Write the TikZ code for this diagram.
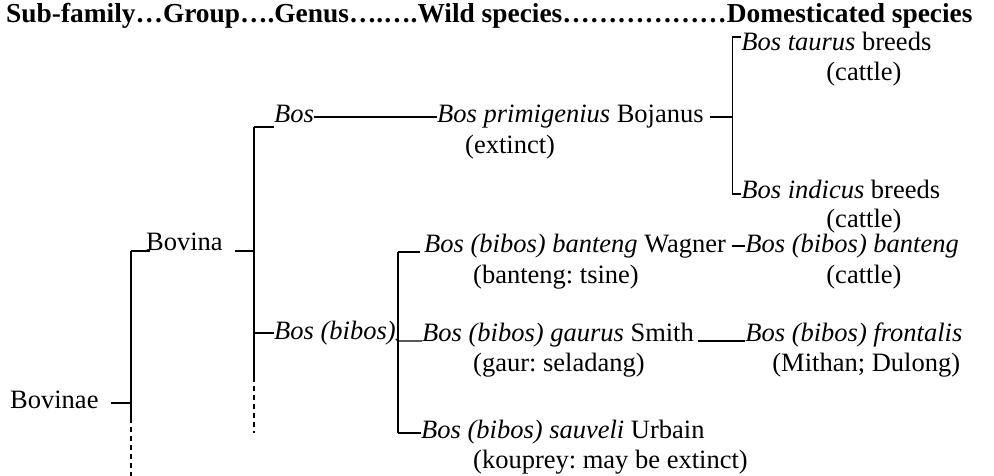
\documentclass[tikz,border=0pt]{standalone}
\usepackage{fontspec}
\setmainfont{Liberation Serif}
\begin{document}
\frenchspacing
\begin{tikzpicture}[x=1pt, y=-1pt,
  lbl/.style={anchor=base west, inner sep=0pt, font=\fontsize{26.5}{30}\selectfont},
  hdr/.style={anchor=base west, inner sep=0pt, font=\fontsize{27.4}{30}\selectfont\bfseries},
  tree/.style={line width=1.3pt},
  cont/.style={line width=1.3pt, dash pattern=on 5pt off 4pt}]
\useasboundingbox (0,0) rectangle (994,476);

% column heading
\node[hdr] (head) at (6,23) {Sub-family…Group….Genus….….Wild species………………Domesticated species};

% sub-family and group
\node[lbl] (bovinae) at (10,408) {Bovinae};
\node[lbl] (bovina)  at (146,251) {Bovina};

% genera
\node[lbl] (bos)   at (274,123) {\textit{Bos}};
\node[lbl] (bibos) at (274,339) {\textit{Bos (bibos)}};

% wild species
\node[lbl] (prim)    at (437,123) {\textit{Bos primigenius} Bojanus};
\node[lbl] (extinct) at (465,154) {(extinct)};
\node[lbl] (banteng) at (424,252) {\textit{Bos (bibos) banteng} Wagner};
\node[lbl] (tsine)   at (473,283) {(banteng: tsine)};
\node[lbl] (gaurus)  at (422,341) {\textit{Bos (bibos) gaurus} Smith};
\node[lbl] (gaur)    at (473,371) {(gaur: seladang)};
\node[lbl] (sauveli) at (421,438) {\textit{Bos (bibos) sauveli} Urbain};
\node[lbl] (kouprey) at (473,468) {(kouprey: may be extinct)};

% domesticated species, aligned on the banteng entry
\node[lbl] (dbanteng) at ([xshift=19pt]banteng.base east) {\textit{Bos (bibos) banteng}};
\coordinate (colT) at ([xshift=-4pt]dbanteng.base west);
\coordinate (colC) at ([xshift=81pt]dbanteng.base west);
\coordinate (br)   at ([xshift=-13pt]dbanteng.base west);
\coordinate (colM) at ([xshift=27pt]dbanteng.base west);
\node[lbl] (taurus)    at (colT |- 0,51)  {\textit{Bos taurus} breeds};
\node[lbl] (cattleA)   at (colC |- 0,81)  {(cattle)};
\node[lbl] (indicus)   at (colT |- 0,199) {\textit{Bos indicus} breeds};
\node[lbl] (cattleB)   at (colC |- 0,228) {(cattle)};
\node[lbl] (cattleC)   at (colC |- 0,283) {(cattle)};
\node[lbl] (frontalis) at (dbanteng.base west |- gaurus.base) {\textit{Bos (bibos) frontalis}};
\node[lbl] (mithan)    at (colM |- 0,371) {(Mithan; Dulong)};

% branch points
\coordinate (sf)  at (131,403);
\coordinate (gr)  at (254,251);
\coordinate (sp)  at (398,341);

% Bovinae -> Bovina
\draw[tree] ([xshift=12pt]bovinae.base east |- sf) -- (sf);
\draw[tree] (sf |- bovina.base) -- (sf) -- (131,418);
\draw[cont] (131,418) -- (131,476);
\draw[tree] (sf |- bovina.base) -- ([xshift=4pt]bovina.base west);

% Bovina -> genera
\draw[tree] ([xshift=12pt]bovina.base east) -- (gr);
\draw[tree] (254,127) -- (254,377);
\draw[cont] (254,377) -- (254,433);
\draw[tree] (254,127) -- (bos.base west |- 254,127);
\draw[tree] (254,333) -- (bibos.west |- 254,333);

% Bos -> wild species -> domesticated
\draw[tree] (bos.east |- 0,117) -- (prim.west |- 0,117);
\draw[tree] ([xshift=6pt]prim.east |- 0,117) -- (br |- 0,117);
\draw[tree] (br |- 0,37) -- (br |- 0,194);
\draw[tree] (br |- 0,37) -- (taurus.west |- 0,37);
\draw[tree] (br |- 0,194) -- (indicus.west |- 0,194);

% Bos (bibos) -> wild species
\draw[tree] (398,252) -- (398,433);
\draw[tree] (398,252) -- ([xshift=-4pt]banteng.base west);
\draw[tree] (bibos.base east) -- (sp) -- (gaurus.base west);
\draw[tree] (398,433) -- (sauveli.west |- 0,433);

% wild -> domesticated bibos
\draw[tree] ([xshift=6pt]banteng.base east |- 0,246) -- (dbanteng.west |- 0,246);
\draw[tree] ([xshift=4pt]gaurus.base east) -- (frontalis.base west);
\end{tikzpicture}
\end{document}
